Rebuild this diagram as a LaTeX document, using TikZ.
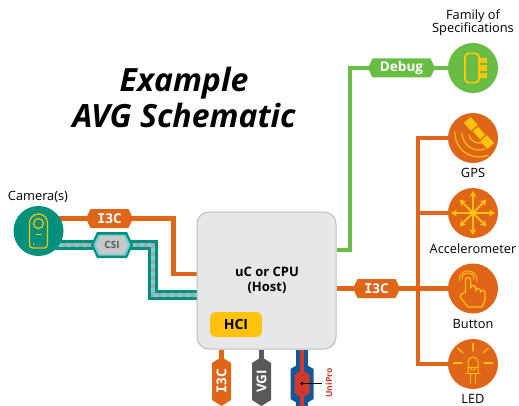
\documentclass[tikz,border=0pt]{standalone}
\usepackage{fontspec}
\setmainfont{Open Sans}
\newfontfamily\serifI{DejaVu Sans Mono}
\usetikzlibrary{backgrounds,arrows.meta}
\definecolor{orangeC}{HTML}{DF6518}
\definecolor{tealC}{HTML}{00917A}
\definecolor{greenC}{HTML}{69BD45}
\definecolor{yellowC}{HTML}{FFC20E}
\definecolor{hostC}{HTML}{E6E7E8}
\definecolor{hostB}{HTML}{BCBEC0}
\definecolor{greyC}{HTML}{58595B}
\definecolor{lblue}{HTML}{7CCBD8}
\definecolor{lgrey}{HTML}{A7A9AC}
\definecolor{csiC}{HTML}{C7C8CA}
\definecolor{redC}{HTML}{D2392B}
\definecolor{blueC}{HTML}{10589A}
\newcommand{\tI}{{\serifI\bfseries I}}
\newcommand{\fs}[1]{\fontsize{#1}{#1}\selectfont}
% \hexfill{x}{y}{half width}{half height}{chamfer}{colour}: pointed-end label plate, horizontal
\newcommand{\hexfill}[6]{\fill[#6,shift={(#1,#2)}] (-#3,0) -- (-#3+#5,-#4) -- (#3-#5,-#4) -- (#3,0) -- (#3-#5,#4) -- (-#3+#5,#4) -- cycle;}
% \vhexfill: same plate, vertical
\newcommand{\vhexfill}[6]{\fill[#6,shift={(#1,#2)}] (0,-#3) -- (#4,-#3+#5) -- (#4,#3-#5) -- (0,#3) -- (-#4,#3-#5) -- (-#4,-#3+#5) -- cycle;}
\tikzset{
  x=1pt,y=-1pt,
  ball/.style={circle,minimum size=50pt,inner sep=0pt,fill=#1},
  plate/.style={inner sep=0pt,text=white,font=\fs{13.5}\bfseries},
  wire/.style={line width=4.6pt,draw=#1,line join=miter},
  lab/.style={font=\fs{12.8},text=black,inner sep=0pt},
  ico/.style={draw=yellowC,line width=1.2pt,line cap=round,line join=round},
  arw/.style={draw=yellowC,line width=2pt,-{Stealth[length=6pt,width=7pt]}},
}
\begin{document}
\begin{tikzpicture}
\useasboundingbox (0,0) rectangle (519,406);
% host
\node[draw=hostB,fill=hostC,line width=1pt,rounded corners=12pt,minimum width=139pt,minimum height=137pt,inner sep=0pt] (host) at (266.5,280.5) {};
\node[font=\fs{13}\bfseries,align=center,inner sep=0pt] (hostT) at (267,280.5) {uC or CPU\\[2pt](Host)};
\node[fill=yellowC,rounded corners=6pt,minimum width=52pt,minimum height=25pt,inner sep=0pt,font=\fs{14}\bfseries] (hci) at (236,324.5) {HCI};
% balls
\node[ball=tealC] (cam) at (38.5,231) {};
\node[ball=greenC] (spec) at (473,68) {};
\node[ball=orangeC] (gps) at (473,138) {};
\node[ball=orangeC] (acc) at (473,213) {};
\node[ball=orangeC] (btn) at (473,288.5) {};
\node[ball=orangeC] (led) at (473,364) {};
% labels
\node[lab] (lcam) at (38,197) {Camera(s)};
\node[lab,align=center] (lspec) at (473,22.5) {Family of\\[-0.5pt]Specifications};
\node[lab] (lgps) at (473,173) {GPS};
\node[lab] (lacc) at (473,249) {Accelerometer};
\node[lab] (lbtn) at (473,324) {Button};
\node[lab] (lled) at (473,398.5) {LED};
\node[font=\fs{32}\bfseries\itshape,align=center,inner sep=0pt] (title) at (184,98) {Example\\[4pt]AVG Schematic};
% plates
\hexfill{109.5}{218.5}{23.5}{9.5}{4.5}{orangeC}
\node[plate] (i3cA) at (109.5,218.5) {\tI 3C};
\hexfill{376.5}{288.5}{23.5}{9.5}{4.5}{orangeC}
\node[plate] (i3cB) at (376.5,288.5) {\tI 3C};
\hexfill{401.5}{68}{33.5}{9.5}{4.5}{greenC}
\node[plate] (dbg) at (401.5,68) {Debug};
\hexfill{112}{245}{21}{13}{6}{tealC}
\hexfill{112}{245}{18.5}{10.5}{5}{lblue}
\hexfill{112}{245}{16}{9}{4.5}{csiC}
\node[plate,text=greyC,font=\fs{10}\bfseries] (csi) at (112,245) {CSI};
\vhexfill{221.5}{381.5}{24.5}{9.5}{6}{orangeC}
\node[plate,rotate=90] (i3cC) at (221.5,381.5) {\tI 3C};
\vhexfill{261.5}{381.5}{24.5}{9.5}{6}{greyC}
\node[plate,rotate=90] (vgi) at (261.5,381.5) {VGI};
\vhexfill{302}{384}{22}{11.5}{7}{blueC}
\coordinate (upO) at (302,384);
\node[font=\fs{8.6}\bfseries,text=redC,rotate=90,inner sep=0pt] (uplab) at (329,383) {UniPro};
\coordinate (updot) at (302,383.5);
\coordinate (upend) at (322,383.5);
\coordinate (upbot) at (302,406);
% bends
\coordinate (a1) at (173.5,218.5);
\coordinate (a2) at (173.5,274);
\coordinate (c1) at (153,245);
\coordinate (c2) at (153,295);
\coordinate (d1) at (350,250);
\coordinate (d2) at (350,68);
\coordinate (bT) at (418,138);
\coordinate (bB) at (418,364);
\coordinate (bM) at (418,213);
\begin{pgfonlayer}{background}
\draw[wire=orangeC] (cam.center |- i3cA) -- (i3cA) -- (a1) -- (a2) -- (host.west |- a2);
\draw[wire=tealC,line width=10pt] (cam.center |- csi) -- (csi) -- (c1) -- (c2) -- (host.west |- c2);
\draw[wire=lblue,line width=4.5pt] (cam.center |- csi) -- (csi) -- (c1) -- (c2) -- (host.west |- c2);
\draw[wire=lgrey,line width=4.5pt,dash pattern=on 4pt off 4pt] (cam.center |- csi) -- (csi) -- (c1) -- (c2) -- (host.west |- c2);
\draw[wire=greenC] (host.east |- d1) -- (d1) -- (d2) -- (spec);
\draw[wire=orangeC] (host.east |- i3cB) -- (btn);
\draw[wire=orangeC] (gps) -- (bT) -- (bB) -- (led);
\draw[wire=orangeC] (bM) -- (acc);
\draw[wire=orangeC] (host.south -| i3cC) -- (i3cC);
\draw[wire=greyC] (host.south -| vgi) -- (vgi);
\draw[wire=blueC,line width=12pt] (host.south -| upO) -- (upbot);
\end{pgfonlayer}
% red core over the blue plate
\draw[redC,line width=4.5pt] (host.south -| upO) -- (upbot);
\vhexfill{302}{384}{14}{7.5}{5}{redC}
\fill[black] (updot) circle (1.6pt);
\draw[black,line width=0.9pt] (updot) -- (upend);
% camera icon
\draw[ico] (29.5,223) arc (180:0:9pt) -- (47.5,245) arc (0:-90:3pt) -- (32.5,248) arc (270:180:3pt) -- cycle;
\draw[ico] (38.5,223.5) circle (5pt);
\draw[ico] (36.5,234.5) -- (41,234.5);
\fill[yellowC] (34,244) circle (0.9pt);
% debug icon
\draw[draw=yellowC,line width=1.8pt,rounded corners=3.5pt] (465,53.5) rectangle (479,82.5);
\fill[yellowC] (480,58) rectangle (487,63.5);
\fill[yellowC] (480,65.5) rectangle (487,71);
\fill[yellowC] (480,73) rectangle (487,78.5);
% GPS icon
\begin{scope}[shift={(479,133)},rotate=-48]
\fill[yellowC] (-17.5,-4.5) rectangle (-7,4.5);
\fill[yellowC] (7,-4.5) rectangle (17.5,4.5);
\fill[yellowC] (-5.5,-3.5) rectangle (5.5,3.5);
\end{scope}
\draw[ico] ([shift={(190:10pt)}]479,133) arc (190:285:10pt);
\draw[ico] ([shift={(180:17pt)}]479,133) arc (180:290:17pt);
\draw[ico] ([shift={(178:24pt)}]479,133) arc (178:292:24pt);
% accelerometer icon
\foreach \a in {0,90,180,270}{\draw[arw] (acc.center) -- +(\a:22);}
\foreach \a in {45,135,225,315}{\draw[arw] (acc.center) -- +(\a:19);}
% button icon
\draw[ico,line width=1pt] (462,279) arc (180:0:6pt);
\draw[ico,line width=1pt] (459.5,281) arc (190:-10:8.7pt);
\draw[ico] (465.5,292) -- (465.5,280) arc (180:0:2.6pt) -- (470.7,288) arc (180:0:2.5pt) -- (475.7,291) arc (180:0:2.4pt) -- (480.5,292.5) arc (180:0:2.2pt) -- (484.9,300) -- (482,307) -- (468,307) -- (460,297) -- (461.5,294) -- cycle;
% LED icon
\draw[ico] (473,343.5) -- (473,351);
\draw[ico] (457.5,348) -- (463,353);
\draw[ico] (488.5,348) -- (483,353);
\draw[ico] (453.5,363) -- (462,363);
\draw[ico] (484,363) -- (492.5,363);
\draw[ico,line width=1pt] (468,373) -- (468,362) arc (180:0:5pt) -- (478,373);
\draw[ico,line width=1pt] (466,373.5) -- (480,373.5);
\draw[ico,line width=1pt] (468,367) -- (478,367);
\draw[ico,line width=1pt] (470,367) arc (180:360:3pt);
\draw[ico,line width=1pt] (470.5,373.5) -- (470.5,383);
\draw[ico,line width=1pt] (475.5,373.5) -- (475.5,383);
\end{tikzpicture}
\end{document}
